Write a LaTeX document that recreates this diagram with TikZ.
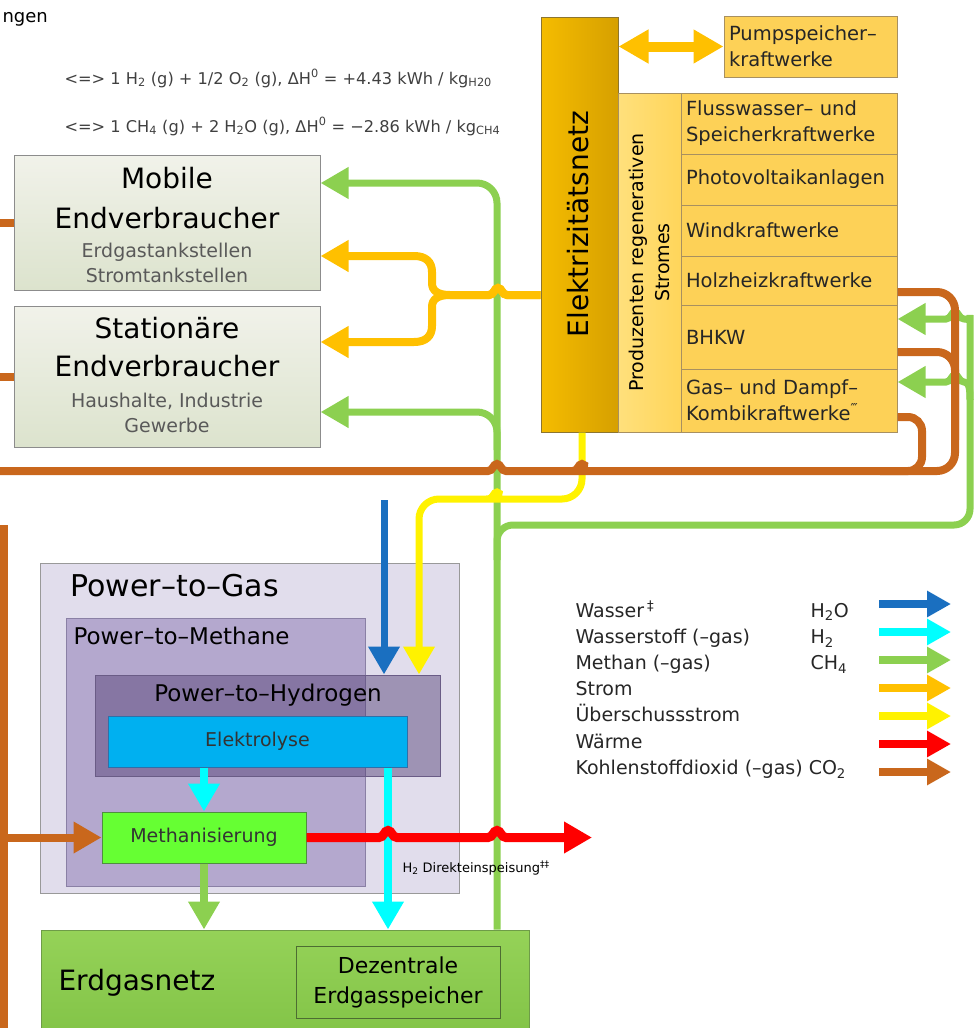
\documentclass[tikz,border=0pt]{standalone}
\usepackage{fontspec}
\setmainfont{DejaVu Sans}
\usetikzlibrary{arrows.meta}
\definecolor{cStrom}{HTML}{FFC000}
\definecolor{cUeber}{HTML}{FFF200}
\definecolor{cMethan}{HTML}{8CD050}
\definecolor{cWasser}{HTML}{1A6FC0}
\definecolor{cWstoff}{HTML}{00FFFF}
\definecolor{cWaerme}{HTML}{FF0000}
\definecolor{cCO}{HTML}{C9671C}
\definecolor{cEndT}{HTML}{F1F2EA}
\definecolor{cEndB}{HTML}{DCE3CD}
\definecolor{cNetzL}{HTML}{F5BC00}
\definecolor{cNetzR}{HTML}{D6A000}
\definecolor{cNetzD}{HTML}{8C7530}
\definecolor{cProdL}{HTML}{FFE07C}
\definecolor{cProdR}{HTML}{FFD55A}
\definecolor{cRow}{HTML}{FDD157}
\definecolor{cRowD}{HTML}{A89060}
\definecolor{cPtG}{HTML}{E1DDEC}
\definecolor{cPtM}{HTML}{B4A8CE}
\definecolor{cPtMD}{HTML}{8A80A5}
\definecolor{cPtH}{HTML}{4E3A70}
\definecolor{cPtHD}{HTML}{6A5C86}
\definecolor{cEly}{HTML}{00B0F0}
\definecolor{cElyD}{HTML}{2F6FA8}
\definecolor{cMeth}{HTML}{66FF33}
\definecolor{cMethD}{HTML}{4F8F3F}
\definecolor{cGasT}{HTML}{95D258}
\definecolor{cGasB}{HTML}{80C245}
\definecolor{cGasD}{HTML}{6E9C48}
\newcommand\fsz[2]{\fontsize{#1}{#2}\selectfont}
% line jumping over a crossing line (to the right / to the left)
\newcommand\hopr{.. controls +(5,0) and +(-4,0) .. ++(9,-7) .. controls +(4,0) and +(-5,0) .. ++(9,7)}
\newcommand\hopl{.. controls +(-5,0) and +(4,0) .. ++(-9,-7) .. controls +(-4,0) and +(5,0) .. ++(-9,7)}

\begin{document}
\begin{tikzpicture}[x=1pt,y=-1pt,
    >={Triangle[length=28pt,width=30pt]},
    pbox/.style={draw=black!45,line width=1pt,inner sep=0pt},
    endbox/.style={pbox,top color=cEndT,bottom color=cEndB,minimum width=306},
    rowbox/.style={pbox,draw=cRowD,fill=cRow,minimum width=216,text width=206,align=left,text=black!85,font=\fsz{19.5}{26}},
    titletxt/.style={font=\fsz{28}{34}},
    subtxt/.style={font=\fsz{19}{24},text=black!65},
    legtxt/.style={font=\fsz{19}{24},text=black!85},
    flowline/.style={line width=7pt},
    stromflow/.style={flowline,line width=8pt,cStrom},
    gasflow/.style={flowline,cMethan},
    ueberflow/.style={flowline,cUeber},
    wasserflow/.style={flowline,cWasser},
    wstoffflow/.style={flowline,line width=8pt,cWstoff},
    heatflow/.style={flowline,line width=9pt,cWaerme},
    coflow/.style={flowline,line width=8pt,cCO}]
    \useasboundingbox (0,0) rectangle (978,1028);

    \node[anchor=base west,font=\fsz{18}{22}] (ngen) at (-1,22) {ngen};
    \node[anchor=base west,font=\fsz{16.2}{19},text=black!75] (eqA) at (61,84) {<=> 1 H\textsubscript{2} (g) + 1/2 O\textsubscript{2} (g), ΔH\textsuperscript{0} = +4.43 kWh / kg\textsubscript{H20}};
    \node[anchor=base west,font=\fsz{16.2}{19},text=black!75] (eqB) at (61,132) {<=> 1 CH\textsubscript{4} (g) + 2 H\textsubscript{2}O (g), ΔH\textsuperscript{0} = −2.86 kWh / kg\textsubscript{CH4}};

    % consumers
    \node[endbox,minimum height=135] (mob) at (167,222.5) {};
    \node[endbox,minimum height=141] (stat) at (167,376.5) {};
    \node[titletxt,anchor=base] (mobA) at (167,188) {Mobile};
    \node[titletxt,anchor=base] (mobB) at (167,228) {Endverbraucher};
    \node[subtxt,anchor=base] (mobC) at (167,257) {Erdgastankstellen};
    \node[subtxt,anchor=base] (mobD) at (167,282) {Stromtankstellen};
    \node[titletxt,anchor=base] (statA) at (167,338) {Stationäre};
    \node[titletxt,anchor=base] (statB) at (167,376) {Endverbraucher};
    \node[subtxt,anchor=base] (statC) at (167,407) {Haushalte, Industrie};
    \node[subtxt,anchor=base] (statD) at (167,432) {Gewerbe};

    % power grid and producers
    \node[pbox,draw=cNetzD,left color=cNetzL,right color=cNetzR,minimum width=77,minimum height=415] (netz) at (579.5,224.5) {};
    \node[rotate=90,font=\fsz{28}{34}] (netzT) at (578,224) {Elektrizitätsnetz};
    \node[pbox,draw=cRowD,fill=cRow,minimum width=173,minimum height=61,text width=163,align=left,text=black!85,font=\fsz{19.5}{26}] (pump) at (810.5,46.5) {Pumpspeicher–\\kraftwerke};
    \node[pbox,draw=cRowD,left color=cProdL,right color=cProdR,minimum width=63,minimum height=339] (prod) at (649.5,262.5) {};
    \node[rotate=90,align=center,font=\fsz{19}{26}] (prodT) at (prod) {Produzenten regenerativen\\Stromes};
    \foreach \n/\yc/\hh/\t in {fluss/123.5/61/{Flusswasser– und\\Speicherkraftwerke},
        pv/179.5/51/{Photovoltaikanlagen},wind/230.5/51/{Windkraftwerke},
        holz/280.5/49/{Holzheizkraftwerke},bhkw/337/64/{BHKW},
        gud/400.5/63/{Gas– und Dampf–\\Kombikraftwerke\textsuperscript{‴}}}
        \node[rowbox,minimum height=\hh] (\n) at (789,\yc) {\t};

    % power-to-gas
    \node[pbox,draw=black!40,fill=cPtG,minimum width=419,minimum height=330] (ptg) at (249.5,728) {};
    \node[anchor=base west,font=\fsz{30}{36}] (ptgT) at (67,596) {Power–to–Gas};
    \node[pbox,draw=cPtMD,fill=cPtM,minimum width=299,minimum height=268] (ptm) at (215.5,752) {};
    \node[anchor=base west,font=\fsz{23}{28}] (ptmT) at (70,644) {Power–to–Methane};
    \node[pbox,draw=cPtHD,fill=cPtH,fill opacity=.45,minimum width=345,minimum height=101] (pth) at (267.5,725.5) {};
    \node[anchor=base,font=\fsz{23}{28}] (pthT) at (268,701) {Power–to–Hydrogen};
    \node[pbox,draw=cElyD,fill=cEly,minimum width=299,minimum height=51,text=black!80,font=\fsz{19}{24}] (elyse) at (257.5,741.5) {Elektrolyse};
    \node[pbox,draw=cMethD,fill=cMeth,minimum width=204,minimum height=51,text=black!80,font=\fsz{19}{24}] (meth) at (204,837.5) {Methanisierung};

    % natural gas grid
    \node[pbox,draw=cGasD,top color=cGasT,bottom color=cGasB,minimum width=488,minimum height=120] (erdgas) at (285,990) {};
    \node[anchor=base west,font=\fsz{28}{34}] (erdgasT) at (55,990) {Erdgasnetz};
    \node[pbox,draw=cGasD!70!black,minimum width=204,minimum height=72,align=center,font=\fsz{22}{30}] (speicher) at (398,982) {Dezentrale\\Erdgasspeicher};

    % methane
    \draw[gasflow,->,rounded corners=20] (erdgas.north -| 497,0) |- (mob.east |- 0,183);
    \draw[gasflow,->,rounded corners=20] (497,450) |- (stat.east |- 0,412);
    \draw[gasflow,->] (497,560) [rounded corners=16] |- (970,525) -- (970,331) [sharp corners] .. controls (970,322) and (969,319) .. (964,319) \hopl -- (bhkw.east |- 0,319);
    \draw[gasflow,->] (970,400) .. controls (970,388) and (969,382) .. (964,382) \hopl -- (gud.east |- 0,382);
    \draw[gasflow,line width=8pt,->] (meth.south) -- (meth.south |- erdgas.north);

    % electricity
    \draw[stromflow,line width=10pt,{Triangle[length=30pt,width=32pt]}-{Triangle[length=30pt,width=32pt]}] (netz.east |- pump.west) -- (pump.west);
    \draw[stromflow,->] (netz.west |- 0,295) -- (507,295) \hopl -- (450,295) .. controls (438,295) and (432,291) .. (432,283) -- (432,272) .. controls (432,262) and (426,256) .. (414,256) -- (mob.east |- 0,256);
    \draw[stromflow,->] (netz.west |- 0,295) -- (507,295) \hopl -- (450,295) .. controls (438,295) and (432,299) .. (432,307) -- (432,326) .. controls (432,336) and (426,342) .. (414,342) -- (stat.east |- 0,342);
    \draw[ueberflow,->] (netz.south -| 582,0) [rounded corners=20] |- (506,499) [sharp corners] \hopl [rounded corners=20] -| (pth.north -| 419,0);

    % carbon dioxide
    \draw[coflow] (holz.east |- 0,292) [rounded corners=18] -| (955,471) -- (591,471) [sharp corners] \hopl -- (506,471) \hopl -- (0,471);
    \draw[coflow] (bhkw.east |- 0,352) [rounded corners=18] -| (955,440);
    \draw[coflow] (gud.east |- 0,417) [rounded corners=14] -| (922,471) -- (880,471);
    \draw[coflow] (0,222.5) -- (mob.west);
    \draw[coflow] (0,376.5) -- (stat.west);
    \draw[coflow] (4,525) -- (4,1040);
    \draw[coflow,->] (4,837.5) -- (meth.west);

    % water, hydrogen, heat
    \draw[wasserflow,->] (384,500) -- (pth.north -| 384,0);
    \draw[wstoffflow,->] (elyse.south -| meth.north) -- (meth.north);
    \draw[wstoffflow,->] (elyse.south -| 388,0) -- (erdgas.north -| 388,0);
    \draw[heatflow,->] (meth.east) -- (379,837.5) \hopr -- (488,837.5) \hopr -- (592,837.5);
    \node[anchor=base west,font=\fsz{13}{16}] (direkt) at (399,872) {H\textsubscript{2} Direkteinspeisung\textsuperscript{‡‡}};

    % legend
    \foreach \t/\f/\c [count=\i from 0] in {
        {Wasser\,\textsuperscript{‡}}/{H\textsubscript{2}O}/cWasser,
        {Wasserstoff (–gas)}/{H\textsubscript{2}}/cWstoff,
        {Methan (–gas)}/{CH\textsubscript{4}}/cMethan,
        Strom/{}/cStrom,
        Überschussstrom/{}/cUeber,
        Wärme/{}/cWaerme,
        {Kohlenstoffdioxid (–gas) CO\textsubscript{2}}/{}/cCO}{
        \node[legtxt,anchor=base west] (leg\i) at (572,617+26.2*\i) {\t};
        \node[legtxt,anchor=base west] (legf\i) at (807,617+26.2*\i) {\f};
        \draw[line width=8pt,\c,-{Triangle[length=24pt,width=25pt]}] (879,604+28*\i) -- (951,604+28*\i);
    }
\end{tikzpicture}
\end{document}
